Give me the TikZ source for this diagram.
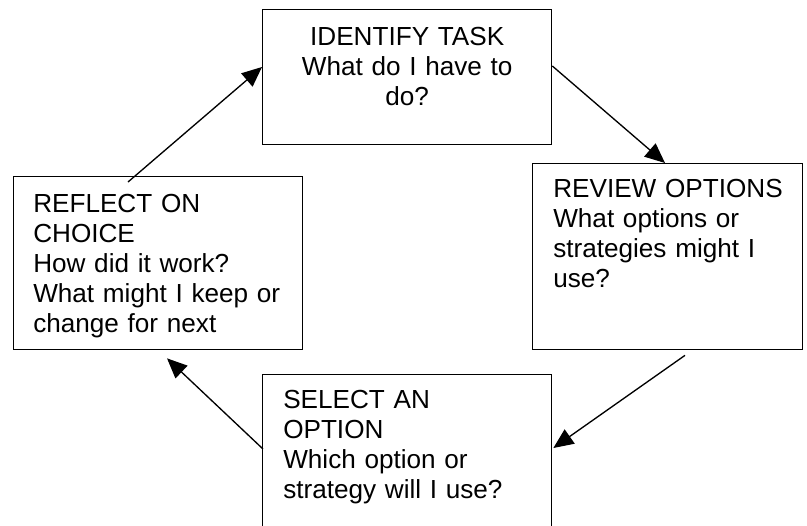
\documentclass[tikz,border=0pt]{standalone}
\usepackage{fontspec}
\setmainfont{Liberation Sans}
\usetikzlibrary{arrows.meta}

\begin{document}
\begin{tikzpicture}[x=0.75pt,y=-0.75pt,
	stage/.style={draw,line width=1pt,inner sep=0pt,anchor=north west},
	stagetext/.style={inner sep=0pt,anchor=base west,text width=195pt,align=left,font=\fontsize{19.6}{22.5}\selectfont},
	flow/.style={line width=1pt,-{Triangle[length=15pt,width=13pt]}}]
		\useasboundingbox (0,0) rectangle (807,525);
		\clip (0,0) rectangle (807,525);
		% the four boxes of the cycle
		\node[stage,minimum width=289*0.75pt,minimum height=135*0.75pt] (identify) at (262,9) {};
		\node[stage,minimum width=270*0.75pt,minimum height=186*0.75pt] (review) at (532,163) {};
		\node[stage,minimum width=289*0.75pt,minimum height=180*0.75pt] (select) at (262,374) {};
		\node[stage,minimum width=289*0.75pt,minimum height=173*0.75pt] (reflect) at (13,176) {};
		% their texts
		\node[stagetext,anchor=base,text width=216.75pt,align=center] (identifytext) at ([shift={(0,36)}]identify.north) {IDENTIFY TASK\\What do I have to\\do?};
		\node[stagetext] (reviewtext) at ([shift={(21,34)}]review.north west) {REVIEW OPTIONS\\What options or\\strategies might I\\use?};
		\node[stagetext] (selecttext) at ([shift={(21,34)}]select.north west) {SELECT AN\\OPTION\\Which option or\\strategy will I use?};
		\node[stagetext] (reflecttext) at ([shift={(20,36)}]reflect.north west) {REFLECT ON\\CHOICE\\How did it work?\\What might I keep or\\change for next};
		% arrows round the cycle
		\draw[flow] ([shift={(115,6)}]reflect.north west) -- ([shift={(0,58)}]identify.north west);
		\draw[flow] ([shift={(0,57)}]identify.north east) -- ([shift={(133,0)}]review.north west);
		\draw[flow] ([shift={(153,5)}]review.south west) -- ([shift={(1,74)}]select.north east);
		\draw[flow] ([shift={(1,75)}]select.north west) -- ([shift={(154,8)}]reflect.south west);
	\end{tikzpicture}
\end{document}
